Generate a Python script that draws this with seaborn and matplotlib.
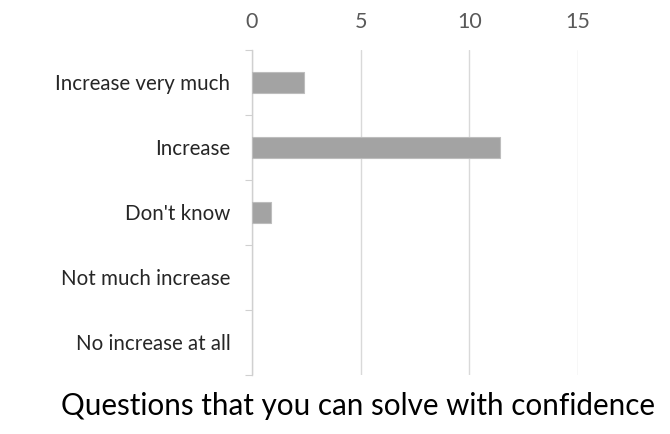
import matplotlib
matplotlib.use("Agg")
import matplotlib.pyplot as plt
import seaborn as sns
import pandas as pd
from matplotlib.ticker import FixedLocator

categories = ["Increase very much", "Increase", "Don't know",
              "Not much increase", "No increase at all"]
values = [2.4, 11.4, 0.9, 0.0, 0.0]
x_ticks = [0, 5, 10, 15]
title = "Questions that you can solve with confidence"

sns.set_theme(style="white")
plt.rcParams["font.family"] = ["Lato", "DejaVu Sans"]

df = pd.DataFrame({"answer": categories, "count": values})

fig = plt.figure(figsize=(6.7, 4.34), dpi=100)
ax = fig.add_axes([0.376, 0.136, 0.487, 0.749])

sns.barplot(data=df, x="count", y="answer", orient="h", ax=ax,
            color="#a3a3a3", width=0.33, edgecolor="#bdbdbd", linewidth=0.8,
            saturation=1, zorder=3)

# empty categories should leave no outline at the baseline
for bar in ax.patches:
    if bar.get_width() == 0:
        bar.set_visible(False)

ax.set_xlim(0, 15)
ax.set_ylim(4.5, -0.5)
ax.set_xticks(x_ticks)
ax.xaxis.tick_top()
ax.tick_params(axis="x", length=0, pad=13, labelsize=15.5, labelcolor="#595959")
ax.tick_params(axis="y", which="major", length=0, pad=15.5, labelsize=14.8,
               labelcolor="#262626")
ax.yaxis.set_minor_locator(FixedLocator([-0.5, 0.5, 1.5, 2.5, 3.5, 4.5]))
ax.tick_params(axis="y", which="minor", left=True, length=5, width=0.8,
               color="#d0d0d0")
ax.grid(axis="x", color="#d9d9d9", linewidth=1.0, zorder=0)
ax.set_xlabel("")
ax.set_ylabel("")
for side in ["top", "right", "bottom"]:
    ax.spines[side].set_visible(False)
ax.spines["left"].set_color("#d0d0d0")
ax.spines["left"].set_linewidth(1.0)

fig.text(0.534, 0.064, title, ha="center", va="center", fontsize=21.3,
         color="#000000")

fig.savefig("out.png", dpi=100, facecolor="white")
